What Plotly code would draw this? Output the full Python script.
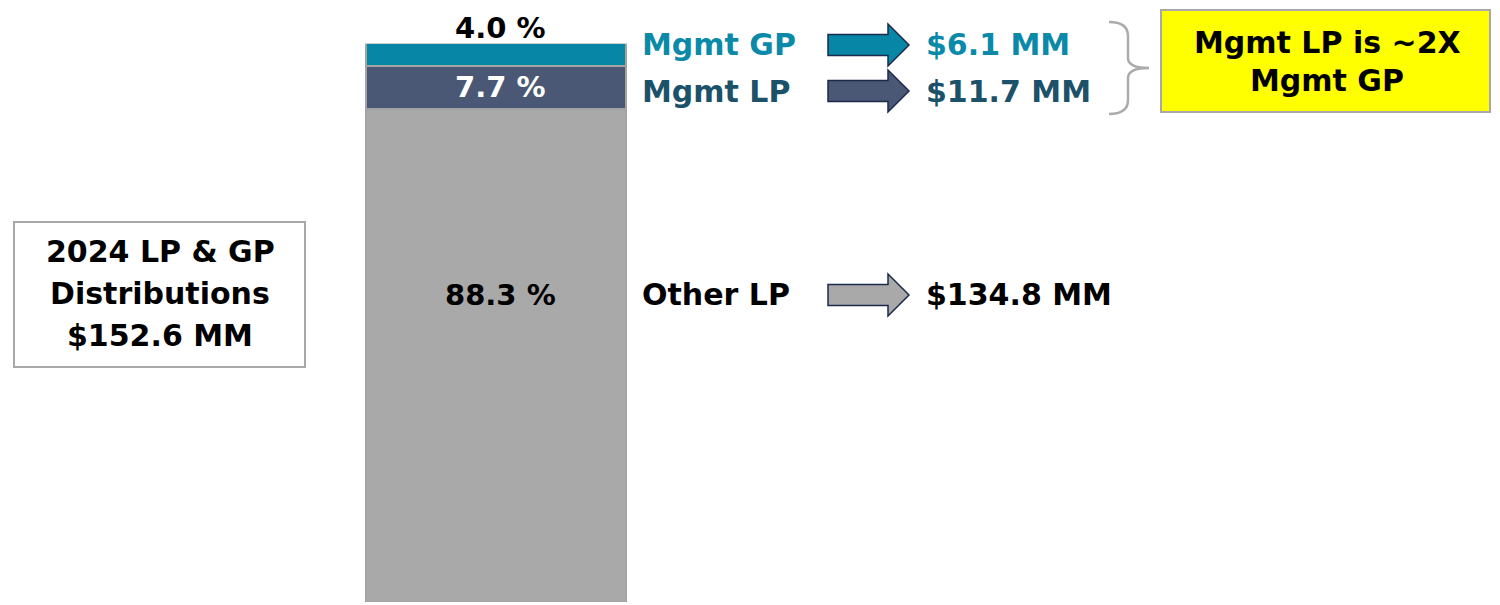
import plotly.graph_objects as go

# Distribution split (bottom to top of the stacked bar)
segments = ["Other LP", "Mgmt LP", "Mgmt GP"]
shares_pct = [88.3, 7.7, 4.0]
amounts_mm = [134.8, 11.7, 6.1]
total_mm = 152.6
year = 2024

W, H = 1500, 605
FONT = "DejaVu Sans"

bar_colors = {"Other LP": "#a9a9a9", "Mgmt LP": "#4a5875", "Mgmt GP": "#0786a6"}
label_colors = {"Other LP": "#000000", "Mgmt LP": "#1b5169", "Mgmt GP": "#0a89a9"}
arrow_fill = {"Other LP": "#a9a9a9", "Mgmt LP": "#4a5875", "Mgmt GP": "#0786a6"}
row_y = {"Other LP": 295, "Mgmt LP": 91, "Mgmt GP": 45}


def px(x):
    return x / W


def py(y):
    return 1 - y / H


fig = go.Figure()
for name, share in zip(segments, shares_pct):
    fig.add_trace(go.Bar(
        x=[496], y=[share], width=[260], name=name,
        marker=dict(color=bar_colors[name], line=dict(color="#a3a3a3", width=1.5)),
        hoverinfo="skip", showlegend=False,
    ))

annotations = []
shapes = []


def text(x, y, s, size=30, color="#000", xanchor="left"):
    annotations.append(dict(
        x=px(x), y=py(y), xref="paper", yref="paper", text=s, showarrow=False,
        xanchor=xanchor, yanchor="middle",
        font=dict(family=FONT, size=size, color=color, weight="bold"),
    ))


def block_arrow(y, fill):
    x0, xh, xt = 828, 888, 909
    s_half, h_half = 10.5, 21
    pts = [(x0, y - s_half), (xh, y - s_half), (xh, y - h_half), (xt, y),
           (xh, y + h_half), (xh, y + s_half), (x0, y + s_half)]
    path = "M " + " L ".join(f"{px(a)},{py(b)}" for a, b in pts) + " Z"
    shapes.append(dict(type="path", path=path, xref="paper", yref="paper",
                       fillcolor=fill, line=dict(color="#1c2a4c", width=1.5)))


# Percent labels on the bar
pct = dict(zip(segments, shares_pct))
text(500, 28, f"{pct['Mgmt GP']:.1f} %", size=29, xanchor="center")
annotations.append(dict(
    x=500, y=pct["Other LP"] + pct["Mgmt LP"] / 2, xref="x", yref="y",
    text=f"{pct['Mgmt LP']:.1f} %", showarrow=False, xanchor="center", yanchor="middle",
    font=dict(family=FONT, size=29, color="#ffffff", weight="bold"),
))
text(500, 295, f"{pct['Other LP']:.1f} %", size=29, xanchor="center")

# Category rows: name -> arrow -> amount
for name, amt in zip(segments, amounts_mm):
    y = row_y[name]
    text(640, y, name, color=label_colors[name])
    block_arrow(y, arrow_fill[name])
    text(924, y, f"${amt:.1f} MM", color=label_colors[name])

# Curly brace grouping the management rows
brace = (f"M {px(1109)},{py(22)} Q {px(1128)},{py(22)} {px(1128)},{py(36)} "
         f"L {px(1128)},{py(58)} Q {px(1128)},{py(68)} {px(1149)},{py(68)} "
         f"Q {px(1128)},{py(68)} {px(1128)},{py(78)} L {px(1128)},{py(100)} "
         f"Q {px(1128)},{py(114)} {px(1109)},{py(114)}")
shapes.append(dict(type="path", path=brace, xref="paper", yref="paper",
                   line=dict(color="#ababab", width=2.5)))

# Callout box
shapes.append(dict(type="rect", xref="paper", yref="paper",
                   x0=px(1161), x1=px(1490), y0=py(112), y1=py(10),
                   fillcolor="#ffff00", line=dict(color="#a8a8a8", width=2)))
text(1327, 43, "Mgmt LP is ~2X", size=30, xanchor="center")
text(1327, 80, "Mgmt GP", size=30, xanchor="center")

# Total box
shapes.append(dict(type="rect", xref="paper", yref="paper",
                   x0=px(14), x1=px(305), y0=py(367), y1=py(222),
                   fillcolor="#ffffff", line=dict(color="#a8a8a8", width=2)))
text(160, 251, f"{year} LP &amp; GP", size=30, xanchor="center")
text(160, 293, "Distributions", size=30, xanchor="center")
text(160, 335, f"${total_mm:.1f} MM", size=30, xanchor="center")

fig.update_layout(
    width=W, height=H, barmode="stack",
    margin=dict(l=0, r=0, t=0, b=0),
    paper_bgcolor="#ffffff", plot_bgcolor="#ffffff",
    xaxis=dict(range=[0, W], visible=False, fixedrange=True),
    yaxis=dict(range=[0, 100], domain=[3 / H, 561.5 / H], visible=False, fixedrange=True),
    annotations=annotations, shapes=shapes,
)

fig.write_html("out.html", config={"displayModeBar": False})
